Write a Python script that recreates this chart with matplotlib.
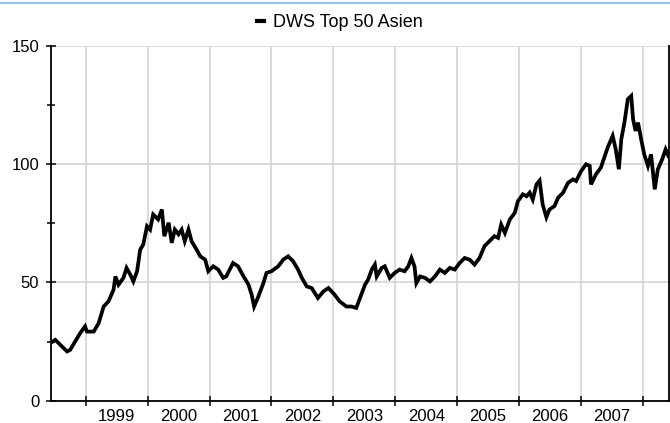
import matplotlib
matplotlib.use("Agg")
import matplotlib.pyplot as plt
from matplotlib.lines import Line2D
from matplotlib.ticker import FixedLocator, NullFormatter, FixedFormatter

plt.rcParams['font.family'] = ['Liberation Sans', 'DejaVu Sans']

series_name = "DWS Top 50 Asien"

# decimal years
dates = [
    1998.44, 1998.51, 1998.59, 1998.70, 1998.75, 1998.83, 1998.91, 1998.99,
    1999.02, 1999.13, 1999.21, 1999.29, 1999.37, 1999.45, 1999.48, 1999.53,
    1999.61, 1999.66, 1999.72, 1999.77, 1999.83, 1999.88, 1999.93, 1999.99,
    2000.04, 2000.09, 2000.17, 2000.23, 2000.27, 2000.34, 2000.39, 2000.44,
    2000.50, 2000.55, 2000.60, 2000.66, 2000.71, 2000.79, 2000.85, 2000.93,
    2000.98, 2001.06, 2001.14, 2001.22, 2001.27, 2001.38, 2001.46, 2001.55,
    2001.63, 2001.68, 2001.72, 2001.79, 2001.87, 2001.92, 2002.00, 2002.11,
    2002.19, 2002.27, 2002.35, 2002.43, 2002.49, 2002.57, 2002.65, 2002.75,
    2002.84, 2002.92, 2003.02, 2003.10, 2003.21, 2003.29, 2003.37, 2003.43,
    2003.51, 2003.56, 2003.62, 2003.67, 2003.70, 2003.78, 2003.83, 2003.91,
    2003.99, 2004.07, 2004.15, 2004.21, 2004.26, 2004.31, 2004.34, 2004.40,
    2004.48, 2004.56, 2004.64, 2004.72, 2004.80, 2004.88, 2004.96, 2005.04,
    2005.12, 2005.20, 2005.28, 2005.36, 2005.44, 2005.52, 2005.60, 2005.66,
    2005.71, 2005.77, 2005.85, 2005.93, 2005.98, 2006.06, 2006.12, 2006.17,
    2006.22, 2006.28, 2006.33, 2006.38, 2006.44, 2006.49, 2006.57, 2006.63,
    2006.71, 2006.79, 2006.87, 2006.92, 2007.00, 2007.08, 2007.14, 2007.16,
    2007.24, 2007.32, 2007.43, 2007.51, 2007.56, 2007.61, 2007.65, 2007.70,
    2007.755, 2007.81, 2007.84, 2007.88, 2007.92, 2007.97, 2008.02, 2008.08,
    2008.13, 2008.19, 2008.24, 2008.31, 2008.365, 2008.41,
]
values = [
    24.5, 25.7, 23.6, 20.8, 21.5, 25.0, 28.5, 31.4,
    29.2, 29.2, 32.8, 39.8, 42.0, 46.9, 52.5, 49.0,
    51.9, 56.1, 53.3, 50.4, 54.7, 63.8, 66.0, 73.7,
    72.3, 78.7, 76.6, 80.8, 69.5, 75.2, 66.7, 72.3,
    70.3, 72.3, 67.4, 72.3, 67.4, 63.9, 61.0, 59.6,
    54.7, 56.8, 55.4, 51.9, 52.5, 58.2, 56.8, 52.5,
    49.0, 44.8, 39.8, 44.1, 49.7, 54.0, 54.7, 56.8,
    59.6, 61.0, 58.9, 55.4, 51.9, 48.3, 47.6, 43.4,
    46.2, 47.6, 44.8, 42.0, 39.8, 39.8, 39.2, 43.4,
    49.0, 51.1, 55.4, 57.5, 52.5, 56.1, 56.8, 51.9,
    54.0, 55.4, 54.7, 56.8, 60.3, 56.8, 49.7, 52.5,
    51.9, 50.4, 52.5, 55.4, 54.0, 56.1, 55.4, 58.2,
    60.3, 59.6, 57.5, 60.3, 65.3, 67.4, 69.5, 68.8,
    74.4, 70.9, 76.6, 79.4, 84.3, 87.2, 86.4, 87.9,
    85.0, 91.4, 93.0, 82.9, 77.5, 80.8, 82.2, 85.8,
    87.9, 92.1, 93.5, 92.8, 97.0, 99.9, 99.2, 91.4,
    95.6, 98.5, 107.0, 111.9, 106.2, 97.8, 110.5, 117.5,
    127.4, 128.8, 118.9, 114.0, 117.5, 110.5, 104.1, 99.2,
    104.1, 89.3, 97.8, 102.0, 106.2, 103.4,
]

year_ticks = [1999, 2000, 2001, 2002, 2003, 2004, 2005, 2006, 2007, 2008]
year_labels = ["1999", "2000", "2001", "2002", "2003", "2004", "2005", "2006", "2007"]
y_major = [0, 50, 100, 150]
y_minor = [25, 75, 125]

W, H = 670, 423
fig = plt.figure(figsize=(W / 100, H / 100), dpi=100)
ax = fig.add_axes([51 / W, (H - 400.7) / H, (669 - 51) / W, (400.7 - 45.7) / H])

ax.plot(dates, values, color='black', linewidth=2.7, solid_joinstyle='miter',
        label=series_name, zorder=3)

ax.set_xlim(1998.44, 2008.42)
ax.set_ylim(0, 150)

# x axis: ticks at year boundaries, labels in middle of years
ax.xaxis.set_major_locator(FixedLocator(year_ticks))
ax.xaxis.set_major_formatter(NullFormatter())
ax.xaxis.set_minor_locator(FixedLocator([y + 0.5 for y in year_ticks[:-1]]))
ax.xaxis.set_minor_formatter(FixedFormatter(year_labels))
ax.tick_params(axis='x', which='major', direction='inout', length=7, width=1.1, color='black')
ax.tick_params(axis='x', which='minor', length=0, pad=6, labelsize=12)

ax.yaxis.set_major_locator(FixedLocator(y_major))
ax.yaxis.set_minor_locator(FixedLocator(y_minor))
ax.tick_params(axis='y', which='major', direction='inout', length=7, width=1.1,
               pad=5, labelsize=12, color='black')
ax.tick_params(axis='y', which='minor', direction='inout', length=6, width=1.1, color='black')

ax.grid(True, which='major', axis='both', color='#d4d4d4', linewidth=1.2, zorder=0)
ax.set_axisbelow(True)

for s in ['left', 'bottom', 'right']:
    ax.spines[s].set_color('black')
    ax.spines[s].set_linewidth(1.3)
ax.spines['top'].set_visible(False)

handle = Line2D([], [], color='black', linewidth=3)
fig.legend([handle], [series_name], loc='center', bbox_to_anchor=(340 / W, 1 - 22.5 / H),
           frameon=False, handlelength=0.4, handletextpad=0.5, fontsize=13,
           borderaxespad=0, borderpad=0)

# top light-blue border line
fig.add_artist(Line2D([0, 1], [1 - 3 / H, 1 - 3 / H], transform=fig.transFigure,
                      color='#9cc3ee', linewidth=1.6))

fig.savefig('out.png', dpi=100)
